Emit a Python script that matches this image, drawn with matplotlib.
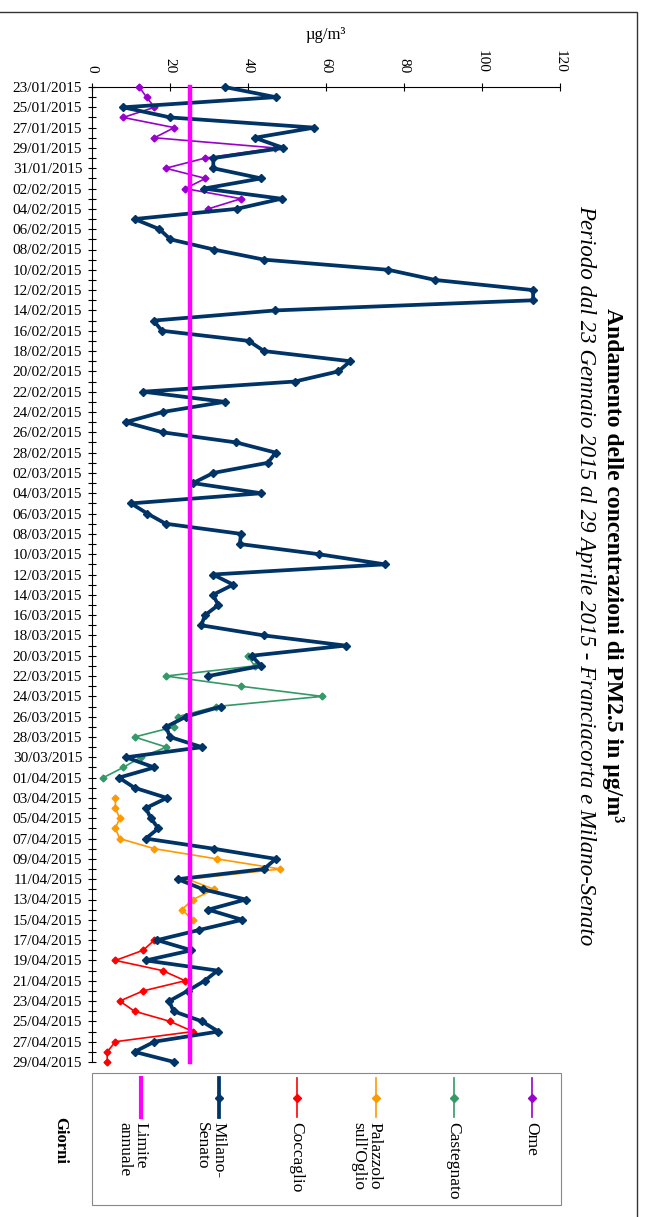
import numpy as np
import pandas as pd
import matplotlib
matplotlib.use('Agg')
import matplotlib.pyplot as plt
from matplotlib.patches import Rectangle
from matplotlib.lines import Line2D

plt.rcParams['font.family'] = ['Liberation Serif', 'DejaVu Serif']

# giorni di misura
giorni = pd.date_range('2015-01-23', '2015-04-29', freq='D')
etichette = [d.strftime('%d/%m/%Y') for d in giorni]

nan = np.nan
# PM2.5 giornaliero (ug/m3)
milano = [34.0, 47.1, 8.0, 20.1, 57.0, 41.7, 49.1, 31.1, 31.1,
          43.4, 28.7, 48.6, 37.1, 10.9, 17.3, 20.1, 31.2, 44.1, 76.0,
          88.0, 113.1, 113.1, 47.0, 15.8, 17.9, 40.2, 44.1, 66.2, 63.2,
          52.0, 13.1, 34.0, 18.1, 8.6, 18.1, 37.0, 47.1,
          45.1, 31.1, 25.9, 43.4, 10.0, 14.2, 18.9, 38.2, 37.9, 58.1,
          75.1, 31.0, 36.2, 31.0, 32.4, 29.0, 28.0, 44.1, 65.0, 40.9,
          43.4, 29.8, nan, nan, 33.1, 24.1, 19.0, 20.0, 28.2, 8.7, 16.0,
          6.9, 10.9, 19.2, 13.8, 15.1, 17.0, 13.8, 31.2, 47.1, 44.1,
          22.0, 28.5, 39.4, 29.8, 38.5, 27.5, 16.7, 25.5, 13.8, 32.2,
          28.9, 24.5, 19.8, 20.9, 28.2, 32.4, 16.0, 10.9, 21.1]
ome = [12.1, 14.0, 16.0, 8.0, 21.1, 16.0, 47.0, 29.0, 18.9, 29.1, 23.9, 38.2, 29.8]
ome_inizio = '2015-01-23'
castegnato = [39.9, 41.7, 18.9, 38.1, 59.0, 31.9, 22.0, 21.1, 10.9, 19.1, 12.5, 8.0, 2.9]
castegnato_inizio = '2015-03-20'
palazzolo = [6.0, 6.0, 7.1, 6.0, 7.1, 16.0, 32.0, 48.3, 24.6, 31.3, 25.9, 23.0, 25.9]
palazzolo_inizio = '2015-04-03'
coccaglio = [16.0, 13.1, 6.0, 18.1, 23.9, 13.1, 7.1, 10.9, 20.0, 25.9, 6.0, 3.9, 3.9]
coccaglio_inizio = '2015-04-17'
limite = 25


def serie(valori, inizio):
    idx = pd.date_range(inizio, periods=len(valori), freq='D')
    return pd.Series(valori, index=idx).reindex(giorni).values


pos = np.arange(len(giorni))
W, H = 645, 1217
fig = plt.figure(figsize=(W / 100, H / 100), dpi=100)


def fx(x):
    return x / W


def fy(y):
    return 1 - y / H


ax = fig.add_axes([fx(92), fy(1062), fx(560) - fx(92), fy(87) - fy(1062)])

stili = [
    ('Ome', serie(ome, ome_inizio), '#9900CC', 1.2, 3.5),
    ('Castegnato', serie(castegnato, castegnato_inizio), '#339966', 1.2, 3.5),
    ("Palazzolo\nsull'Oglio", serie(palazzolo, palazzolo_inizio), '#FF9900', 1.2, 3.5),
    ('Coccaglio', serie(coccaglio, coccaglio_inizio), '#FF0000', 1.2, 3.5),
    ('Milano-\nSenato', np.array(milano), '#003366', 2.7, 4.5),
]
for nome, val, col, lw, ms in stili:
    ax.plot(val, pos, color=col, lw=lw, marker='D', ms=ms, zorder=3, clip_on=False)
ax.plot([limite] * len(pos), pos, color='#FF00FF', lw=3.2, zorder=4, clip_on=False)

ax.set_xlim(0, 120)
ax.set_ylim(len(pos) - 1, 0)
ax.xaxis.tick_top()
ax.set_xticks(np.arange(0, 121, 20))
ax.set_xticklabels([str(v) for v in range(0, 121, 20)], rotation=-90, fontsize=11)
ax.set_yticks(pos[::2])
ax.set_yticklabels(etichette[::2], fontsize=11)
ax.set_yticks(pos[1::2], minor=True)
ax.tick_params(axis='both', which='both', direction='inout', length=6, width=0.8)
ax.tick_params(axis='x', pad=7)
ax.tick_params(axis='y', pad=4)
for s in ['right', 'bottom']:
    ax.spines[s].set_visible(False)

fig.text(fx(326), fy(35), 'µg/m³', ha='center', va='center', fontsize=12)
fig.text(fx(613), fy(565), 'Andamento delle concentrazioni di PM2.5 in µg/m³',
         rotation=-90, ha='center', va='center', fontsize=17, fontweight='bold')
fig.text(fx(586), fy(575),
         'Periodo dal 23 Gennaio 2015 al 29 Aprile 2015 - Franciacorta e Milano-Senato',
         rotation=-90, ha='center', va='center', fontsize=16.5, style='italic')
fig.text(fx(60), fy(1140), 'Giorni', rotation=-90, ha='center', va='center',
         fontsize=12, fontweight='bold')

# cornice esterna
fig.add_artist(Rectangle((fx(-2), fy(1230)), fx(637) - fx(-2), fy(12) - fy(1230),
                         transform=fig.transFigure, fill=False, ec='#333333', lw=1))

# legenda
fig.add_artist(Rectangle((fx(92), fy(1205)), fx(561) - fx(92), fy(1073) - fy(1205),
                         transform=fig.transFigure, fill=False, ec='#888888', lw=0.8))
voci = [('Limite\nannuale', '#FF00FF', 3, None)] + \
       [(n, c, lw, 'D') for n, _, c, lw, _ in stili[::-1]]
for i, (nome, col, lw, mk) in enumerate(voci):
    x = 141 + i * 78.2
    fig.add_artist(Line2D([fx(x)] * 3, [fy(1078), fy(1098), fy(1117)],
                          transform=fig.transFigure, color=col, lw=lw,
                          marker=mk, ms=4, markevery=[1]))
    fig.text(fx(x + 7), fy(1122), nome, rotation=-90, rotation_mode='anchor',
             ha='left', va='top', fontsize=12.5, linespacing=1.0)

fig.savefig('out.png', dpi=100)
